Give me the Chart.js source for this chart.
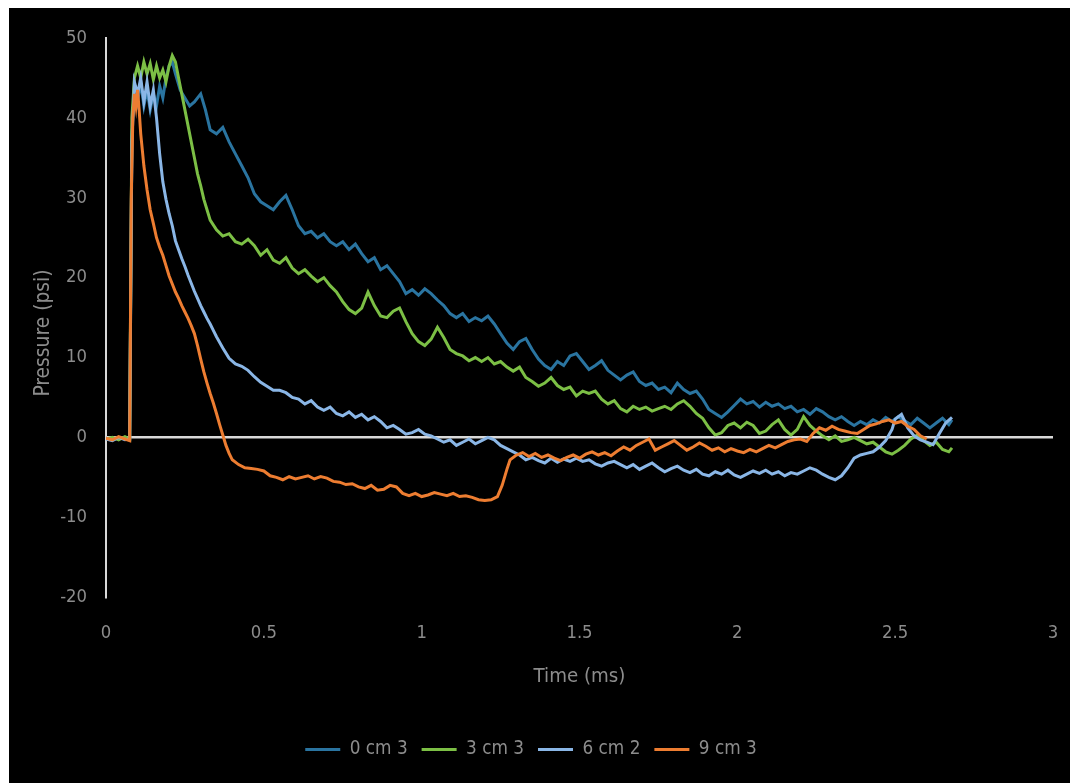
<!DOCTYPE html>
<html>
<head>
<meta charset="utf-8">
<script src="https://cdn.jsdelivr.net/npm/chart.js@4/dist/chart.umd.min.js"></script>
<style>
html,body{margin:0;padding:0;background:#fff;width:1070px;height:783px;overflow:hidden;}
#frame{position:absolute;left:9px;top:8px;width:1061px;height:775px;background:#000;}
canvas{display:block;}
</style>
</head>
<body>
<div id="frame"><canvas id="c" width="1061" height="775"></canvas></div>
<script>
const seriesNames = ['0 cm 3', '3 cm 3', '6 cm 2', '9 cm 3'];
const seriesColors = ['#2a74a0', '#7cbf45', '#8ab6e6', '#ed7d31'];
const xTicks = [0, 0.5, 1, 1.5, 2, 2.5, 3];
const yTicks = [-20, -10, 0, 10, 20, 30, 40, 50];

// 0 cm 3
const t0 = [0,0.02,0.04,0.06,0.075,0.082,0.09,0.1,0.11,0.12,0.13,0.14,0.15,0.16,0.17,0.18,0.19,0.2,0.21,0.22,0.235,0.25,0.265,0.28,0.3,0.315,0.33,0.35,0.37,0.39,0.41,0.43,0.45,0.47,0.49,0.51,0.53,0.55,0.57,0.59,0.61,0.63,0.65,0.67,0.69,0.71,0.73,0.75,0.77,0.79,0.81,0.83,0.85,0.87,0.89,0.91,0.93,0.95,0.97,0.99,1.01,1.03,1.05,1.07,1.09,1.11,1.13,1.15,1.17,1.19,1.21,1.23,1.25,1.27,1.29,1.31,1.33,1.35,1.37,1.39,1.41,1.43,1.45,1.47,1.49,1.51,1.53,1.55,1.57,1.59,1.61,1.63,1.65,1.67,1.69,1.71,1.73,1.75,1.77,1.79,1.81,1.83,1.85,1.87,1.89,1.91,1.93,1.95,1.97,1.99,2.01,2.03,2.05,2.07,2.09,2.11,2.13,2.15,2.17,2.19,2.21,2.23,2.25,2.27,2.29,2.31,2.33,2.35,2.37,2.39,2.41,2.43,2.45,2.47,2.49,2.51,2.53,2.55,2.57,2.59,2.61,2.63,2.65,2.67,2.68];
const p0 = [-0.1,-0.3,0,-0.2,-0.3,38,44,42,44.5,41.5,43.5,41,43,41.5,44,42.5,45,46.5,47,45.5,43.5,42.5,41.5,42,43,41,38.5,38,38.8,37,35.5,34,32.5,30.5,29.5,29,28.5,29.5,30.3,28.5,26.5,25.5,25.8,25,25.5,24.5,24,24.5,23.5,24.2,23,22,22.5,21,21.5,20.5,19.5,18,18.5,17.8,18.6,18,17.2,16.5,15.5,15,15.5,14.5,15,14.6,15.2,14.2,13,11.8,11,12,12.4,11,9.8,9,8.5,9.5,9,10.2,10.5,9.5,8.5,9,9.6,8.4,7.8,7.2,7.8,8.2,7,6.5,6.8,6,6.3,5.6,6.8,6,5.5,5.8,4.8,3.5,3,2.5,3.2,4,4.8,4.2,4.5,3.8,4.4,3.9,4.2,3.6,3.9,3.2,3.5,2.9,3.6,3.2,2.6,2.2,2.6,2,1.5,2,1.6,2.2,1.8,2.5,2,2.6,2.1,1.6,2.4,1.8,1.2,1.8,2.4,1.6,2.2];

// 3 cm 3
const t1 = [0,0.02,0.04,0.06,0.075,0.082,0.09,0.1,0.11,0.12,0.13,0.14,0.15,0.16,0.17,0.18,0.19,0.2,0.21,0.22,0.23,0.24,0.25,0.26,0.27,0.28,0.29,0.3,0.31,0.32,0.33,0.35,0.37,0.39,0.41,0.43,0.45,0.47,0.49,0.51,0.53,0.55,0.57,0.59,0.61,0.63,0.65,0.67,0.69,0.71,0.73,0.75,0.77,0.79,0.81,0.83,0.85,0.87,0.89,0.91,0.93,0.95,0.97,0.99,1.01,1.03,1.05,1.07,1.09,1.11,1.13,1.15,1.17,1.19,1.21,1.23,1.25,1.27,1.29,1.31,1.33,1.35,1.37,1.39,1.41,1.43,1.45,1.47,1.49,1.51,1.53,1.55,1.57,1.59,1.61,1.63,1.65,1.67,1.69,1.71,1.73,1.75,1.77,1.79,1.81,1.83,1.85,1.87,1.89,1.91,1.93,1.95,1.97,1.99,2.01,2.03,2.05,2.07,2.09,2.11,2.13,2.15,2.17,2.19,2.21,2.23,2.25,2.27,2.29,2.31,2.33,2.35,2.37,2.39,2.41,2.43,2.45,2.47,2.49,2.51,2.53,2.55,2.57,2.59,2.61,2.63,2.65,2.67,2.68];
const p1 = [-0.2,0,-0.3,0.1,-0.2,40,45,46.5,45,47,45.5,46.8,44.8,46.5,45,46,44.5,46.5,47.8,47,45,43,41,39,37,35,33,31.5,29.8,28.5,27.2,26,25.2,25.5,24.5,24.2,24.8,24,22.8,23.5,22.2,21.8,22.5,21.2,20.5,21,20.2,19.5,20,19,18.2,17,16,15.5,16.2,18.2,16.5,15.2,15,15.8,16.2,14.5,13,12,11.5,12.3,13.8,12.5,11,10.5,10.2,9.6,10,9.5,10,9.2,9.5,8.8,8.3,8.8,7.5,7,6.4,6.8,7.5,6.5,6,6.3,5.2,5.8,5.5,5.8,4.8,4.2,4.6,3.6,3.2,3.9,3.5,3.8,3.3,3.6,3.9,3.5,4.2,4.6,3.9,3,2.4,1.2,0.3,0.6,1.5,1.8,1.2,1.9,1.5,0.5,0.8,1.6,2.2,1,0.3,1,2.6,1.5,0.8,0.2,-0.3,0.2,-0.5,-0.3,0,-0.4,-0.8,-0.6,-1.2,-1.8,-2.1,-1.6,-1,-0.2,0.3,-0.4,-1,-0.6,-1.5,-1.8,-1.3];

// 6 cm 2
const t2 = [0,0.02,0.04,0.06,0.075,0.082,0.09,0.1,0.11,0.12,0.13,0.14,0.15,0.16,0.17,0.18,0.19,0.2,0.21,0.22,0.23,0.24,0.25,0.26,0.27,0.28,0.29,0.3,0.31,0.32,0.33,0.34,0.35,0.37,0.39,0.41,0.43,0.45,0.47,0.49,0.51,0.53,0.55,0.57,0.59,0.61,0.63,0.65,0.67,0.69,0.71,0.73,0.75,0.77,0.79,0.81,0.83,0.85,0.87,0.89,0.91,0.93,0.95,0.97,0.99,1.01,1.03,1.05,1.07,1.09,1.11,1.13,1.15,1.17,1.19,1.21,1.23,1.25,1.27,1.29,1.31,1.33,1.35,1.37,1.39,1.41,1.43,1.45,1.47,1.49,1.51,1.53,1.55,1.57,1.59,1.61,1.63,1.65,1.67,1.69,1.71,1.73,1.75,1.77,1.79,1.81,1.83,1.85,1.87,1.89,1.91,1.93,1.95,1.97,1.99,2.01,2.03,2.05,2.07,2.09,2.11,2.13,2.15,2.17,2.19,2.21,2.23,2.25,2.27,2.29,2.31,2.33,2.35,2.37,2.39,2.41,2.43,2.45,2.47,2.49,2.5,2.52,2.54,2.56,2.58,2.6,2.62,2.64,2.66,2.68];
const p2 = [-0.2,-0.4,0,-0.3,-0.2,37,44.5,43,45,42,44.5,41.5,43.5,40,35.5,32,29.8,28,26.5,24.6,23.5,22.4,21.4,20.3,19.3,18.3,17.4,16.5,15.7,14.9,14.2,13.4,12.6,11.2,9.9,9.2,8.9,8.4,7.6,6.9,6.4,5.9,5.9,5.6,5,4.8,4.2,4.6,3.8,3.4,3.8,3,2.7,3.2,2.5,2.9,2.2,2.6,2,1.2,1.5,1,0.4,0.6,1,0.4,0.2,-0.2,-0.6,-0.3,-1,-0.6,-0.2,-0.8,-0.4,0,-0.3,-1,-1.4,-1.8,-2.2,-2.8,-2.5,-2.9,-3.2,-2.6,-3.1,-2.7,-3,-2.6,-3,-2.8,-3.3,-3.6,-3.2,-3,-3.4,-3.8,-3.4,-4,-3.6,-3.2,-3.8,-4.3,-3.9,-3.6,-4.1,-4.4,-4,-4.6,-4.8,-4.3,-4.6,-4.1,-4.7,-5,-4.6,-4.2,-4.5,-4.1,-4.6,-4.3,-4.8,-4.4,-4.6,-4.2,-3.8,-4.1,-4.6,-5,-5.3,-4.8,-3.8,-2.6,-2.2,-2,-1.8,-1.2,-0.4,1,2.3,2.9,1.2,0.2,-0.3,-0.6,-0.9,0.5,1.8,2.5];

// 9 cm 3
const t3 = [0,0.02,0.04,0.06,0.075,0.08,0.085,0.09,0.095,0.1,0.105,0.11,0.12,0.13,0.14,0.15,0.16,0.17,0.18,0.19,0.2,0.21,0.22,0.23,0.24,0.25,0.26,0.27,0.28,0.29,0.3,0.31,0.32,0.33,0.34,0.35,0.36,0.37,0.38,0.39,0.4,0.42,0.44,0.46,0.48,0.5,0.52,0.54,0.56,0.58,0.6,0.62,0.64,0.66,0.68,0.7,0.72,0.74,0.76,0.78,0.8,0.82,0.84,0.86,0.88,0.9,0.92,0.94,0.96,0.98,1,1.02,1.04,1.06,1.08,1.1,1.12,1.14,1.16,1.18,1.2,1.22,1.24,1.255,1.27,1.28,1.3,1.32,1.34,1.36,1.38,1.4,1.42,1.44,1.46,1.48,1.5,1.52,1.54,1.56,1.58,1.6,1.62,1.64,1.66,1.68,1.7,1.72,1.74,1.76,1.78,1.8,1.82,1.84,1.86,1.88,1.9,1.92,1.94,1.96,1.98,2,2.02,2.04,2.06,2.08,2.1,2.12,2.14,2.16,2.18,2.2,2.22,2.24,2.26,2.28,2.3,2.32,2.34,2.36,2.38,2.4,2.42,2.44,2.46,2.48,2.5,2.52,2.54,2.56,2.58,2.6];
const p3 = [-0.1,-0.3,0.1,-0.2,-0.4,30,40,43,41.5,43.5,41,38,34,31,28.5,26.8,25,23.8,22.8,21.5,20.2,19.2,18.2,17.4,16.5,15.7,14.9,14,13,11.5,9.8,8.2,6.8,5.5,4.3,3,1.6,0.3,-1,-2,-2.8,-3.4,-3.8,-3.9,-4,-4.2,-4.8,-5,-5.3,-4.9,-5.2,-5,-4.8,-5.2,-4.9,-5.1,-5.5,-5.6,-5.9,-5.8,-6.2,-6.4,-6,-6.6,-6.5,-6,-6.2,-7,-7.3,-7,-7.4,-7.2,-6.9,-7.1,-7.3,-7,-7.4,-7.3,-7.5,-7.8,-7.9,-7.8,-7.4,-6,-4,-2.8,-2.2,-1.9,-2.4,-2,-2.5,-2.2,-2.6,-2.9,-2.5,-2.2,-2.6,-2.1,-1.8,-2.2,-1.9,-2.3,-1.7,-1.2,-1.6,-1,-0.6,-0.2,-1.6,-1.2,-0.8,-0.4,-1,-1.6,-1.2,-0.7,-1.1,-1.6,-1.3,-1.8,-1.4,-1.7,-1.9,-1.5,-1.8,-1.4,-1,-1.3,-0.9,-0.5,-0.3,-0.2,-0.5,0.5,1.2,0.9,1.4,1,0.8,0.6,0.5,1,1.5,1.7,2,2.2,1.8,2,1.4,1,0.2,-0.2];

const times = [t0, t1, t2, t3];
const values = [p0, p1, p2, p3];

const textColor = '#8c8c8c';

// pick the narrowest installed family available
function hasFont(f) {
  const c = document.createElement('canvas').getContext('2d');
  const s = 'mmmmmmwwwwwlliiI0123456789';
  c.font = '40px monospace'; const a = c.measureText(s).width;
  c.font = '40px "' + f + '", monospace'; const b = c.measureText(s).width;
  c.font = '40px serif'; const a2 = c.measureText(s).width;
  c.font = '40px "' + f + '", serif'; const b2 = c.measureText(s).width;
  return a !== b || a2 !== b2;
}
const family = ['Liberation Sans Narrow', 'DejaVu Sans Condensed', 'Roboto Condensed', 'Roboto'].find(hasFont) || 'sans-serif';
const fam = '"' + family + '", sans-serif';
function fitSize(text, target) {
  const c = document.createElement('canvas').getContext('2d');
  c.font = '100px ' + fam;
  return Math.round(target * 100 / c.measureText(text).width * 10) / 10;
}
const titleSize = fitSize('Time (ms)', 92);
const legendSize = fitSize('0 cm 3', 58);
const tickSize = fitSize('50', 21);
const yTitleSize = fitSize('Pressure (psi)', 127);

const datasets = seriesNames.map((name, i) => ({
  label: name,
  data: times[i].map((t, j) => ({x: t, y: values[i][j]})),
  borderColor: seriesColors[i],
  backgroundColor: seriesColors[i],
  borderWidth: 3,
  pointRadius: 0,
  tension: 0,
  order: seriesNames.length - i
}));

const yTitlePlugin = {
  id: 'yTitle',
  afterDraw(chart) {
    const ctx = chart.ctx;
    ctx.save();
    ctx.translate(35, 325);
    ctx.rotate(-Math.PI / 2);
    ctx.fillStyle = textColor;
    ctx.font = yTitleSize + 'px ' + fam;
    ctx.textAlign = 'center';
    ctx.textBaseline = 'middle';
    ctx.fillText('Pressure (psi)', 0, 0);
    ctx.restore();
  }
};

new Chart(document.getElementById('c'), {
  type: 'line',
  data: { datasets },
  plugins: [yTitlePlugin],
  options: {
    responsive: false,
    animation: false,
    layout: { padding: { top: 30, right: 17, left: 0, bottom: 14 } },
    plugins: {
      tooltip: { enabled: false },
      legend: {
        position: 'bottom',
        labels: {
          color: textColor,
          font: { family: fam, size: legendSize },
          boxWidth: 35,
          boxHeight: 3,
          padding: 14,
          sort: (a, b) => a.datasetIndex - b.datasetIndex,
          generateLabels(chart) {
            const items = Chart.defaults.plugins.legend.labels.generateLabels(chart);
            items.forEach(it => { it.lineWidth = 0; it.fillStyle = seriesColors[it.datasetIndex]; });
            return items;
          }
        }
      }
    },
    scales: {
      x: {
        type: 'linear',
        min: xTicks[0],
        max: xTicks[xTicks.length - 1],
        afterBuildTicks(scale) { scale.ticks = xTicks.map(v => ({value: v})); },
        afterFit(scale) { scale.height = 129; scale.paddingLeft = 0; scale.paddingRight = 0; },
        ticks: { color: textColor, font: { family: fam, size: tickSize }, padding: 25, maxRotation: 0, callback: v => String(v) },
        grid: { display: false, drawTicks: false },
        border: { display: false },
        title: { display: true, text: 'Time (ms)', color: textColor, font: { family: fam, size: titleSize }, padding: { top: 0, bottom: 37 } }
      },
      y: {
        type: 'linear',
        min: yTicks[0],
        max: yTicks[yTicks.length - 1],
        afterBuildTicks(scale) { scale.ticks = yTicks.map(v => ({value: v})); },
        afterFit(scale) { scale.width = 97; },
        ticks: { color: textColor, font: { family: fam, size: tickSize }, padding: 19, callback: v => String(v) },
        grid: {
          drawTicks: false,
          lineWidth: 2.5,
          color: ctx => (ctx.tick && ctx.tick.value === 0) ? '#d9d9d9' : 'rgba(0,0,0,0)'
        },
        border: { display: true, color: '#d9d9d9', width: 2 }
      }
    }
  }
});
</script>
</body>
</html>
